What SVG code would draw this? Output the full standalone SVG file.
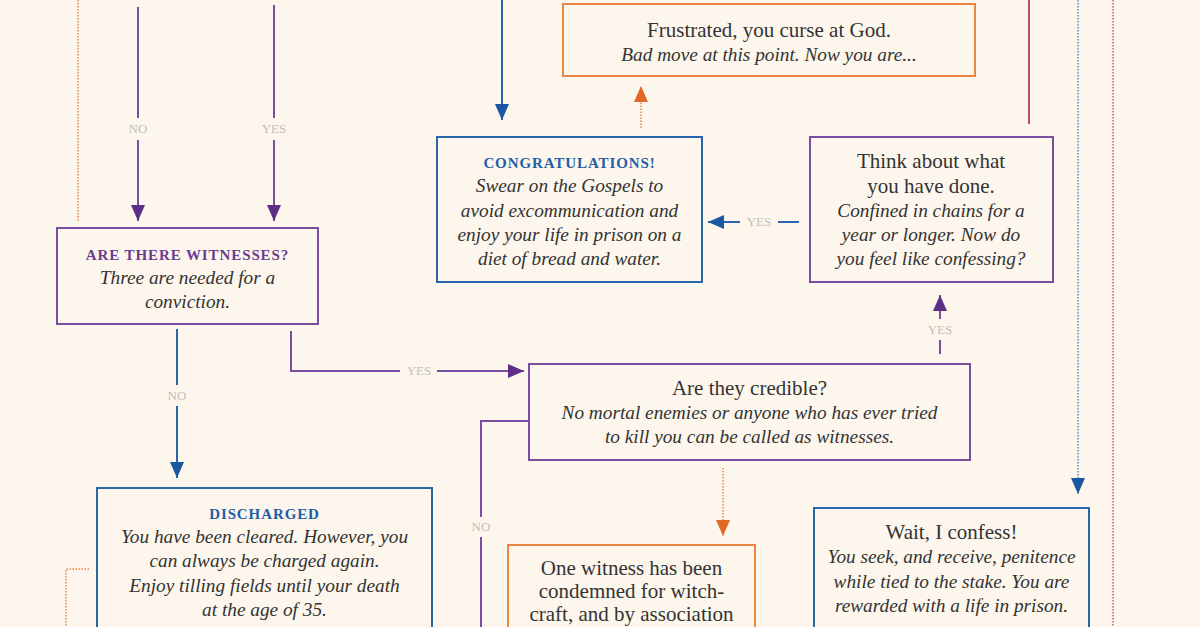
<svg xmlns="http://www.w3.org/2000/svg" width="1200" height="627" viewBox="0 0 1200 627">
<defs>
<style>
.bg{fill:#fdf6ec}
.box{fill:#fdf6ec;stroke-width:2}
.pu{stroke:#7a4d9e}
.bl{stroke:#2a64ad}
.or{stroke:#ec8442}
.t{font-family:"Liberation Serif","DejaVu Serif",serif;fill:#333;text-anchor:middle;font-size:21px}
.i{font-style:italic;font-size:19.3px}
.h{font-family:"Liberation Serif","DejaVu Serif",serif;font-weight:bold;font-size:15px;letter-spacing:0.9px;text-anchor:middle}
.hp{fill:#6a3c8e}
.hb{fill:#1f5ea8}
.lab{font-family:"Liberation Serif","DejaVu Serif",serif;font-size:13px;fill:#c4bdb6;text-anchor:middle}
.c{fill:none;stroke-width:2}
.cp{stroke:#7a4d9e}
.cb{stroke:#2a64ad}
.cr{stroke:#c24a66}
.dot{fill:none;stroke-width:2;stroke-dasharray:1.5 1.5}
.dor{stroke:#f0a070}
.dbl{stroke:#7fa6d3}
.drd{stroke:#d8607a;stroke-width:1.6}
</style>
<marker id="ap" markerUnits="userSpaceOnUse" markerWidth="16" markerHeight="14" refX="16" refY="7" orient="auto"><path d="M0,0 L16,7 L0,14 z" fill="#5e2d86" stroke="none"/></marker>
<marker id="ab" markerUnits="userSpaceOnUse" markerWidth="16" markerHeight="14" refX="16" refY="7" orient="auto"><path d="M0,0 L16,7 L0,14 z" fill="#1b56a0" stroke="none"/></marker>
<marker id="ao" markerUnits="userSpaceOnUse" markerWidth="16" markerHeight="14" refX="16" refY="7" orient="auto"><path d="M0,0 L16,7 L0,14 z" fill="#e2682a" stroke="none"/></marker>
</defs>
<rect class="bg" x="0" y="0" width="1200" height="627"/>

<g id="connectors">
<line class="dot dor" x1="78" y1="0" x2="78" y2="222"/>
<line class="c cp" x1="138" y1="7" x2="138" y2="118"/>
<line class="c cp" x1="138" y1="140" x2="138" y2="221" marker-end="url(#ap)"/>
<text class="lab" x="138" y="133">NO</text>
<line class="c cp" x1="274" y1="5" x2="274" y2="118"/>
<line class="c cp" x1="274" y1="140" x2="274" y2="221" marker-end="url(#ap)"/>
<text class="lab" x="274" y="133">YES</text>
<line class="c cb" x1="502" y1="0" x2="502" y2="120" marker-end="url(#ab)"/>
<line class="dot dor" x1="641" y1="128" x2="641" y2="86" marker-end="url(#ao)"/>
<line class="c cb" x1="799" y1="222" x2="778" y2="222"/>
<line class="c cb" x1="740" y1="222" x2="708" y2="222" marker-end="url(#ab)"/>
<text class="lab" x="759" y="226">YES</text>
<line class="c cr" x1="1029" y1="0" x2="1029" y2="124"/>
<line class="dot dbl" x1="1078" y1="0" x2="1078" y2="494" marker-end="url(#ab)"/>
<line class="dot drd" x1="1113" y1="0" x2="1113" y2="627"/>
<line class="c cp" x1="940" y1="354" x2="940" y2="340"/>
<line class="c cp" x1="940" y1="319" x2="940" y2="295" marker-end="url(#ap)"/>
<text class="lab" x="940" y="334">YES</text>
<line class="c cb" x1="177" y1="329" x2="177" y2="385"/>
<line class="c cb" x1="177" y1="406" x2="177" y2="478" marker-end="url(#ab)"/>
<text class="lab" x="177" y="400">NO</text>
<path class="c cp" d="M291,331 V371 H400"/>
<path class="c cp" d="M437,371 H524" marker-end="url(#ap)"/>
<text class="lab" x="419" y="375">YES</text>
<path class="c cp" d="M529,421 H481 V517"/>
<line class="c cp" x1="481" y1="537" x2="481" y2="627"/>
<text class="lab" x="481" y="531">NO</text>
<line class="dot dor" x1="723" y1="468" x2="723" y2="536" marker-end="url(#ao)"/>
<path class="dot dor" d="M89,569 H66 V627"/>
</g>

<g id="frustrated">
<rect class="box or" x="563" y="4" width="412" height="72"/>
<text class="t" x="769" y="37">Frustrated, you curse at God.</text>
<text class="t i" x="769" y="61">Bad move at this point. Now you are...</text>
</g>

<g id="congratulations">
<rect class="box bl" x="437" y="137" width="265" height="145"/>
<text class="h hb" x="569.5" y="168">CONGRATULATIONS!</text>
<text class="t i" x="569.5" y="192">Swear on the Gospels to</text>
<text class="t i" x="569.5" y="217">avoid excommunication and</text>
<text class="t i" x="569.5" y="241">enjoy your life in prison on a</text>
<text class="t i" x="569.5" y="265">diet of bread and water.</text>
</g>

<g id="think">
<rect class="box pu" x="810" y="137" width="243" height="145"/>
<text class="t" x="931" y="168">Think about what</text>
<text class="t" x="931" y="193">you have done.</text>
<text class="t i" x="931" y="217">Confined in chains for a</text>
<text class="t i" x="931" y="241">year or longer. Now do</text>
<text class="t i" x="931" y="265">you feel like confessing?</text>
</g>

<g id="witnesses">
<rect class="box pu" x="57" y="228" width="261" height="96"/>
<text class="h hp" x="187.5" y="260">ARE THERE WITNESSES?</text>
<text class="t i" x="187.5" y="284">Three are needed for a</text>
<text class="t i" x="187.5" y="308">conviction.</text>
</g>

<g id="credible">
<rect class="box pu" x="529" y="364" width="441" height="96"/>
<text class="t" x="749.5" y="395">Are they credible?</text>
<text class="t i" x="749.5" y="419">No mortal enemies or anyone who has ever tried</text>
<text class="t i" x="749.5" y="443">to kill you can be called as witnesses.</text>
</g>

<g id="discharged">
<rect class="box bl" x="97" y="488" width="335" height="170"/>
<text class="h hb" x="264.5" y="519">DISCHARGED</text>
<text class="t i" x="264.5" y="543">You have been cleared. However, you</text>
<text class="t i" x="264.5" y="567">can always be charged again.</text>
<text class="t i" x="264.5" y="592">Enjoy tilling fields until your death</text>
<text class="t i" x="264.5" y="616">at the age of 35.</text>
</g>

<g id="witchcraft">
<rect class="box or" x="508" y="545" width="247" height="120"/>
<text class="t" x="631.5" y="575">One witness has been</text>
<text class="t" x="631.5" y="598">condemned for witch-</text>
<text class="t" x="631.5" y="621">craft, and by association</text>
</g>

<g id="confess">
<rect class="box bl" x="814" y="508" width="275" height="150"/>
<text class="t" x="951.5" y="539">Wait, I confess!</text>
<text class="t i" x="951.5" y="563">You seek, and receive, penitence</text>
<text class="t i" x="951.5" y="588">while tied to the stake. You are</text>
<text class="t i" x="951.5" y="612">rewarded with a life in prison.</text>
</g>
</svg>
